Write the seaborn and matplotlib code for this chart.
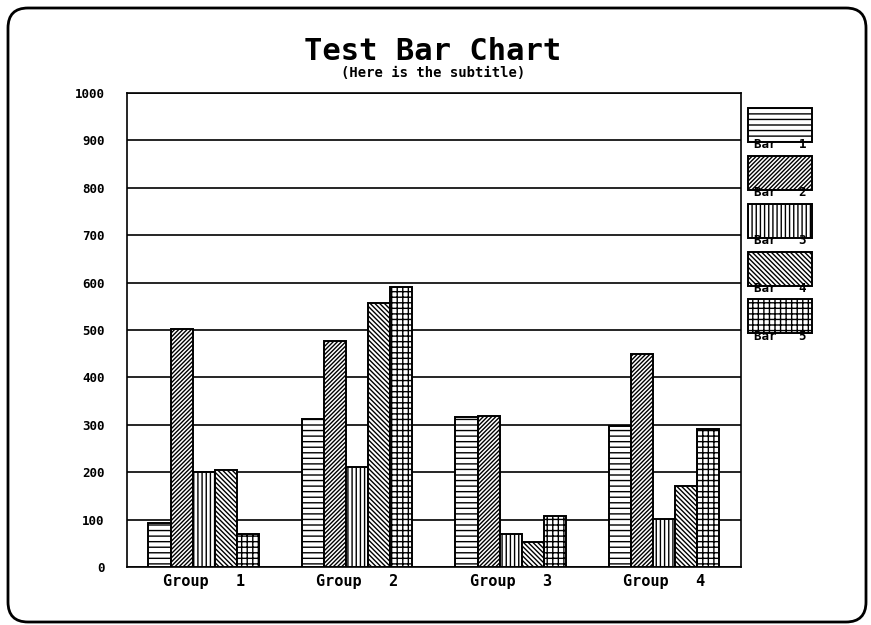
import pandas as pd
import matplotlib
matplotlib.use("Agg")
import matplotlib.pyplot as plt
from matplotlib.patches import Rectangle, FancyBboxPatch
import seaborn as sns

# datos
grupos = ["Group 1", "Group 2", "Group 3", "Group 4"]
series = ["Bar 1", "Bar 2", "Bar 3", "Bar 4", "Bar 5"]
bar1 = [92, 313, 316, 298]
bar2 = [502, 476, 318, 450]
bar3 = [200, 210, 70, 101]
bar4 = [204, 557, 53, 170]
bar5 = [70, 590, 108, 292]
yticks = list(range(0, 1001, 100))

hatches = ["---", "////////", "||||", "\\" * 7, "+++"]

sns.set_style("white")
plt.rcParams["font.family"] = ["DejaVu Sans Mono"]
plt.rcParams["text.color"] = "black"
plt.rcParams["xtick.color"] = "black"
plt.rcParams["ytick.color"] = "black"
plt.rcParams["hatch.linewidth"] = 1.0
plt.rcParams["hatch.color"] = "black"

rows = []
for nombre, valores in zip(series, [bar1, bar2, bar3, bar4, bar5]):
    for g, v in zip(grupos, valores):
        rows.append({"grupo": g, "serie": nombre, "valor": v})
df = pd.DataFrame(rows)

fig = plt.figure(figsize=(8.71, 6.25), dpi=100)
ax = fig.add_axes([0.1458, 0.0928, 0.7049, 0.7584])

sns.barplot(data=df, x="grupo", y="valor", hue="serie", order=grupos,
            hue_order=series, width=0.72, gap=0,
            palette=["white"] * 5, edgecolor="black", linewidth=1.4,
            legend=False, ax=ax, zorder=3)

for cont, h in zip(ax.containers, hatches):
    for p in cont:
        p.set_hatch(h)
        p.set_edgecolor("black")

ax.set_ylim(0, 1000)
ax.set_xlim(-0.5, 3.5)
ax.set_yticks(yticks)
ax.set_yticklabels([str(t) for t in yticks], fontsize=9, fontweight="bold")
ax.set_xticks(range(len(grupos)))
ax.set_xticklabels([g.replace(" ", "   ") for g in grupos], fontsize=11,
                   fontweight="bold")
ax.tick_params(axis="y", length=0, pad=16)
ax.tick_params(axis="x", length=0, pad=5)
ax.set_xlabel("")
ax.set_ylabel("")
ax.yaxis.grid(True, color="black", linewidth=1.2, zorder=0)
ax.xaxis.grid(False)
for s in ax.spines.values():
    s.set_color("black")
    s.set_linewidth(1.2)
    s.set_visible(True)

# titulo y subtitulo
fig.text(0.497, 1 - 60 / 625, "Test Bar Chart", ha="center", va="baseline",
         fontsize=22, fontweight="bold")
fig.text(0.497, 1 - 66 / 625, "(Here is the subtitle)", ha="center", va="top",
         fontsize=10, fontweight="bold")

# leyenda a mano: cuadro con trama y texto debajo
W, H = 871, 625
tops = [108, 156, 204, 252, 299]
for top, nombre, h in zip(tops, series, hatches):
    fig.patches.append(Rectangle((748 / W, 1 - (top + 34) / H), 64 / W, 34 / H,
                                 facecolor="white", edgecolor="black",
                                 linewidth=1.4, hatch=h,
                                 transform=fig.transFigure, figure=fig))
    fig.text(780 / W, 1 - (top + 37) / H, nombre.replace(" ", "   "),
             ha="center", va="center", fontsize=9, fontweight="bold")

# marco redondeado
fig.patches.append(FancyBboxPatch((0.08, 0.03), 8.58, 6.14,
                                  boxstyle="round,pad=0,rounding_size=0.2",
                                  facecolor="none", edgecolor="black",
                                  linewidth=2, transform=fig.dpi_scale_trans,
                                  figure=fig))

fig.savefig("out.png", dpi=100)
